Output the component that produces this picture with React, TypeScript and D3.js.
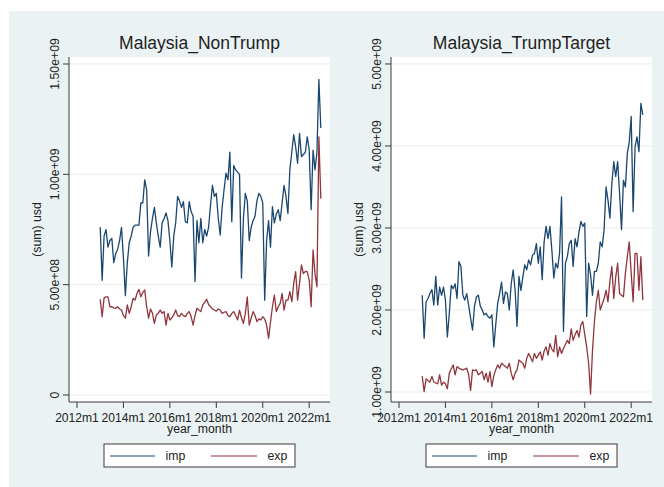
import React from 'react';
import * as d3 from 'd3';

// monthly values in billions of usd, 2013m1 .. 2022m7
const nonTrumpImp = [
  0.76, 0.52, 0.72, 0.75, 0.67, 0.70, 0.71, 0.60, 0.64, 0.66, 0.70, 0.76,
  0.62, 0.45, 0.60, 0.69, 0.72, 0.76, 0.77, 0.77, 0.77, 0.87, 0.87, 0.975,
  0.93, 0.63, 0.74, 0.80, 0.85, 0.78, 0.72, 0.67, 0.78, 0.80, 0.825, 0.79,
  0.70, 0.58, 0.72, 0.78, 0.90, 0.88, 0.85, 0.876, 0.785, 0.78, 0.876, 0.83,
  0.81, 0.514, 0.79, 0.69, 0.80, 0.69, 0.75, 0.72, 0.76, 0.86, 0.95, 0.90,
  0.914, 0.80, 0.725, 0.85, 0.93, 1.005, 0.975, 1.10, 0.785, 1.04, 1.02, 1.01,
  1.00, 0.53, 0.80, 0.914, 0.88, 0.70, 0.76, 0.79, 0.81, 0.88, 0.914, 0.90,
  0.87, 0.43, 0.70, 0.79, 0.67, 0.854, 0.78, 0.82, 0.84, 0.79, 0.87, 0.95,
  0.90, 0.823, 1.02, 1.10, 1.18, 1.125, 1.05, 1.186, 1.08, 1.09, 1.10, 1.17,
  1.11, 0.84, 1.11, 1.02, 1.10, 1.43, 1.21,
];

const nonTrumpExp = [
  0.434, 0.355, 0.44, 0.445, 0.445, 0.40, 0.40, 0.395, 0.393, 0.40, 0.39, 0.385,
  0.36, 0.348, 0.408, 0.37, 0.40, 0.438, 0.43, 0.46, 0.479, 0.445, 0.465, 0.476,
  0.40, 0.348, 0.39, 0.37, 0.325, 0.363, 0.37, 0.385, 0.37, 0.378, 0.317, 0.37,
  0.34, 0.35, 0.363, 0.385, 0.36, 0.355, 0.37, 0.36, 0.355, 0.37, 0.378, 0.355,
  0.317, 0.36, 0.393, 0.385, 0.378, 0.408, 0.42, 0.434, 0.41, 0.40, 0.39, 0.385,
  0.38, 0.39, 0.385, 0.37, 0.375, 0.378, 0.36, 0.355, 0.37, 0.378, 0.36, 0.34,
  0.385, 0.35, 0.325, 0.37, 0.445, 0.317, 0.348, 0.378, 0.36, 0.333, 0.345, 0.34,
  0.355, 0.345, 0.317, 0.257, 0.33, 0.40, 0.453, 0.378, 0.40, 0.415, 0.46, 0.385,
  0.43, 0.43, 0.468, 0.423, 0.506, 0.559, 0.43, 0.506, 0.59, 0.55, 0.56, 0.559,
  0.521, 0.40, 0.657, 0.55, 0.49, 1.17, 0.89,
];

const trumpImp = [
  2.18, 1.655, 2.10, 2.14, 2.20, 2.25, 2.06, 2.41, 2.06, 2.28, 2.18, 2.28,
  2.12, 1.67, 1.96, 2.30, 2.26, 2.32, 2.14, 2.59, 2.53, 2.18, 2.12, 2.20,
  2.06, 1.90, 1.756, 2.04, 2.16, 2.18, 2.05, 2.0, 1.94, 1.96, 1.92, 1.90,
  1.94, 1.55, 1.82, 2.08, 2.20, 2.34, 2.08, 2.22, 2.20, 2.0, 2.32, 2.49,
  2.24, 1.80, 2.41, 2.24, 2.40, 2.55, 2.49, 2.61, 2.55, 2.67, 2.69, 2.81,
  2.57, 2.77, 2.37, 2.83, 3.02, 2.87, 3.02, 2.73, 2.39, 2.57, 2.51, 2.70,
  3.38, 1.74, 2.57, 2.65, 2.81, 2.85, 2.53, 2.87, 2.77, 2.95, 3.08, 3.02,
  3.06, 1.92, 2.57, 2.43, 2.18, 2.47, 2.47, 2.57, 2.83, 2.77, 2.98, 3.50,
  3.34, 3.12, 3.54, 3.81, 3.63, 3.81, 3.42, 2.98, 3.58, 3.50, 3.91, 4.05,
  4.36, 3.20, 3.99, 4.11, 3.93, 4.52, 4.38,
];

const trumpExp = [
  1.195, 1.005, 1.16, 1.14, 1.12, 1.19, 1.12, 1.11, 1.10, 1.21, 1.085, 1.12,
  1.10, 1.04, 1.23, 1.28, 1.33, 1.21, 1.31, 1.29, 1.28, 1.27, 1.28, 1.29,
  1.21, 1.02, 1.27, 1.26, 1.27, 1.21, 1.23, 1.25, 1.15, 1.23, 1.12, 1.25,
  1.065, 1.20, 1.27, 1.33, 1.29, 1.35, 1.33, 1.31, 1.29, 1.35, 1.23, 1.15,
  1.23, 1.27, 1.39, 1.37, 1.35, 1.29, 1.41, 1.47, 1.42, 1.37, 1.47, 1.41,
  1.45, 1.49, 1.39, 1.50, 1.55, 1.45, 1.59, 1.52, 1.49, 1.69, 1.43, 1.55,
  1.47, 1.53, 1.58, 1.63, 1.59, 1.77, 1.63, 1.70, 1.75, 1.67, 1.82, 1.86,
  1.70, 1.55, 1.35, 0.975, 1.51, 1.86, 2.10, 2.24, 2.0, 2.07, 2.14, 2.24,
  2.10, 2.35, 2.53, 2.14, 2.40, 2.57, 2.20, 2.18, 2.16, 2.45, 2.65, 2.83,
  2.45, 2.10, 2.69, 2.69, 2.24, 2.65, 2.12,
];

// months counted from 2012m1
const firstMonth = 12;
const xTickMonths = [0, 24, 48, 72, 96, 120];
const xTickLabels = ['2012m1', '2014m1', '2016m1', '2018m1', '2020m1', '2022m1'];

const nonTrumpTicks = [0, 0.5, 1.0, 1.5];
const nonTrumpTickLabels = ['0', '5.00e+08', '1.00e+09', '1.50e+09'];
const trumpTicks = [1, 2, 3, 4, 5];
const trumpTickLabels = ['1.00e+09', '2.00e+09', '3.00e+09', '4.00e+09', '5.00e+09'];

const FONT = '"Liberation Sans", Arial, Helvetica, sans-serif';
const BG = '#eaf2f3';
const IMP_COLOR = '#1a476f';
const EXP_COLOR = '#90353b';
const AXIS_COLOR = '#3a3a3a';

interface PanelProps {
  left: number;
  title: string;
  imp: number[];
  exp: number[];
  yDomain: [number, number];
  yTicks: number[];
  yTickLabels: string[];
}

const Panel: React.FC<PanelProps> = ({ left, title, imp, exp, yDomain, yTicks, yTickLabels }) => {
  const plotW = 261;
  const top = 57;
  const bottom = 402;
  const right = left + plotW;
  const cx = left + plotW / 2;

  const x = d3.scaleLinear().domain([-4.13, 130.75]).range([left, right]);
  const y = d3.scaleLinear().domain(yDomain).range([bottom, top]);

  const line = d3.line<number>()
    .x((_, i) => x(firstMonth + i))
    .y(d => y(d));

  return (
    <g>
      <rect x={left} y={top} width={plotW} height={bottom - top} fill="#fff" />
      {yTicks.map(t => (
        <line key={'g' + t} x1={left} x2={right} y1={y(t)} y2={y(t)} stroke="#e6eef0" strokeWidth={1} />
      ))}
      <path d={line(imp) || ''} fill="none" stroke={IMP_COLOR} strokeWidth={1.3} strokeLinejoin="round" />
      <path d={line(exp) || ''} fill="none" stroke={EXP_COLOR} strokeWidth={1.3} strokeLinejoin="round" />

      {/* y axis */}
      <line x1={left} x2={left} y1={top} y2={bottom} stroke={AXIS_COLOR} strokeWidth={1} />
      {yTicks.map((t, i) => (
        <g key={'y' + t}>
          <line x1={left - 6} x2={left} y1={y(t)} y2={y(t)} stroke={AXIS_COLOR} strokeWidth={1} />
          <text transform={`translate(${left - 10},${y(t)}) rotate(-90)`} textAnchor="middle"
            fontSize={12.3} fill="#222">{yTickLabels[i]}</text>
        </g>
      ))}
      <text transform={`translate(${left - 28},${(top + bottom) / 2}) rotate(-90)`} textAnchor="middle"
        fontSize={12.3} fill="#222">(sum) usd</text>

      {/* x axis */}
      <line x1={left} x2={right} y1={bottom} y2={bottom} stroke={AXIS_COLOR} strokeWidth={1} />
      {xTickMonths.map((m, i) => (
        <g key={'x' + m}>
          <line x1={x(m)} x2={x(m)} y1={bottom} y2={bottom + 6} stroke={AXIS_COLOR} strokeWidth={1} />
          <text x={x(m)} y={422} textAnchor="middle" fontSize={12.1} fill="#222">{xTickLabels[i]}</text>
        </g>
      ))}
      <text x={cx} y={433} textAnchor="middle" fontSize={12.3} fill="#222">year_month</text>

      <text x={cx} y={49} textAnchor="middle" fontSize={17.5} fill="#1e1e1e">{title}</text>

      {/* legend */}
      <rect x={cx - 95.5} y={444} width={191} height={23} fill="#fff" stroke={AXIS_COLOR} strokeWidth={1} />
      <line x1={cx - 89.5} x2={cx - 44.5} y1={456} y2={456} stroke={IMP_COLOR} strokeWidth={1.2} />
      <text x={cx - 34} y={460} fontSize={12.3} fill="#222">imp</text>
      <line x1={cx + 11.5} x2={cx + 57.5} y1={456} y2={456} stroke={EXP_COLOR} strokeWidth={1.2} />
      <text x={cx + 68} y={460} fontSize={12.3} fill="#222">exp</text>
    </g>
  );
};

const App: React.FC = () => {
  const W = 664;
  const H = 487;
  return (
    <svg width={W} height={H} style={{ position: 'absolute', left: 0, top: 0, fontFamily: FONT }}>
      <rect x={0} y={0} width={W} height={H} fill="#fff" />
      <rect x={9} y={11} width={W - 9} height={H - 11} fill={BG} />
      <Panel left={69} title="Malaysia_NonTrump" imp={nonTrumpImp} exp={nonTrumpExp}
        yDomain={[-0.0317, 1.5317]} yTicks={nonTrumpTicks} yTickLabels={nonTrumpTickLabels} />
      <Panel left={391} title="Malaysia_TrumpTarget" imp={trumpImp} exp={trumpExp}
        yDomain={[0.878, 5.085]} yTicks={trumpTicks} yTickLabels={trumpTickLabels} />
    </svg>
  );
};

export default App;
